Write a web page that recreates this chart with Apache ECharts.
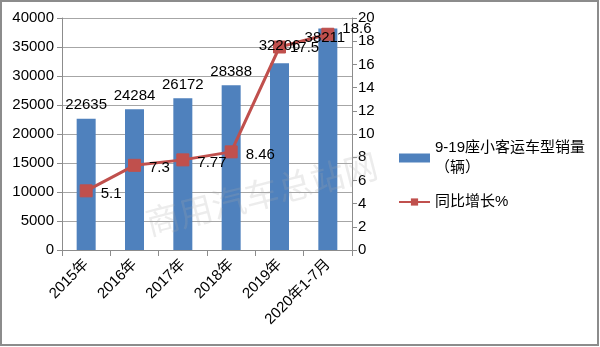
<!DOCTYPE html>
<html><head><meta charset="utf-8">
<script src="https://cdn.jsdelivr.net/npm/echarts@6/dist/echarts.min.js"></script>
<style>html,body{margin:0;padding:0;background:#fff}#c{width:600px;height:347px}</style>
</head><body><div id="c"></div>
<script>
var categories = ['2015年','2016年','2017年','2018年','2019年','2020年1-7月'];
var sales = [22635, 24284, 26172, 28388, 32206, 38211];
var growth = [5.1, 7.3, 7.77, 8.46, 17.5, 18.6];
var leftTicks = {min:0, max:40000, interval:5000};
var rightTicks = {min:0, max:20, interval:2};

// label placement tweaks (styling only)
var barLabelCfg = [{}, {}, {}, {}, {distance:10}, {position:'insideTop', distance:2, offset:[-3,0]}];
var lineLabelCfg = [{}, {}, {}, {}, {offset:[-4,1]}, {offset:[0,-5]}];

var FONT = '"Liberation Sans","Noto Sans CJK SC",sans-serif';
var BAR_NAME = '9-19座小客运车型销量\n（辆）';
var chart = echarts.init(document.getElementById('c'));
chart.setOption({
  animation:false,
  textStyle:{fontFamily:FONT},
  graphic:[
    {type:'rect', shape:{x:1,y:1,width:597,height:344}, style:{fill:'none', stroke:'#8c8c8c', lineWidth:2}, z:-1},
    {type:'text', left:142, top:148, rotation:0.25, style:{text:'商用汽车总站网', fill:'rgba(170,170,170,0.22)', font:'34px "Noto Sans CJK SC"'}, z:100}
  ],
  grid:{left:62, right:248, top:18, bottom:97},
  legend:{
    orient:'vertical', left:393, top:133, itemGap:14,
    textStyle:{fontSize:15, color:'#000', fontFamily:FONT, lineHeight:20},
    data:[
      {name:BAR_NAME, icon:'rect', itemStyle:{color:'#4F81BD'}},
      {name:'同比增长%'}
    ],
    itemWidth:31, itemHeight:9
  },
  xAxis:{
    type:'category', data:categories,
    axisLine:{lineStyle:{color:'#8c8c8c', width:1}},
    axisTick:{show:true, length:6, lineStyle:{color:'#8c8c8c'}},
    axisLabel:{rotate:45, color:'#000', fontSize:15, fontFamily:FONT, margin:12, interval:0}
  },
  yAxis:[
    {type:'value', min:leftTicks.min, max:leftTicks.max, interval:leftTicks.interval,
     axisLine:{show:true, lineStyle:{color:'#8c8c8c'}},
     axisTick:{show:true, length:5, lineStyle:{color:'#8c8c8c'}},
     splitLine:{lineStyle:{color:'#a6a6a6'}},
     axisLabel:{color:'#000', fontSize:15, fontFamily:FONT, margin:8, formatter:function(v){return String(v);}}},
    {type:'value', min:rightTicks.min, max:rightTicks.max, interval:rightTicks.interval,
     position:'right',
     axisLine:{show:true, lineStyle:{color:'#8c8c8c'}},
     axisTick:{show:true, length:5, lineStyle:{color:'#8c8c8c'}},
     splitLine:{show:false},
     axisLabel:{color:'#000', fontSize:15, fontFamily:FONT, margin:6}}
  ],
  series:[
    {name:BAR_NAME, type:'bar', barWidth:19, data:sales, z:2,
     itemStyle:{color:'#4F81BD'}},
    {name:'同比增长%', type:'line', yAxisIndex:1,
     data:growth.map(function(v,i){return {value:v, label:lineLabelCfg[i]};}),
     lineStyle:{color:'#C0504D', width:3},
     itemStyle:{color:'#C0504D', borderColor:'#C0504D'},
     symbol:'rect', symbolSize:12, z:3,
     label:{show:true, position:'right', color:'#000', fontSize:15, fontFamily:FONT, distance:8, offset:[0,3]}},
    {name:'barLabels', type:'bar', barWidth:19, barGap:'-100%', z:5, silent:true,
     data:sales.map(function(v,i){return {value:v, label:barLabelCfg[i]};}),
     itemStyle:{color:'rgba(0,0,0,0)'},
     label:{show:true, position:'top', color:'#000', fontSize:15, fontFamily:FONT, distance:6}}
  ]
});
</script></body></html>
